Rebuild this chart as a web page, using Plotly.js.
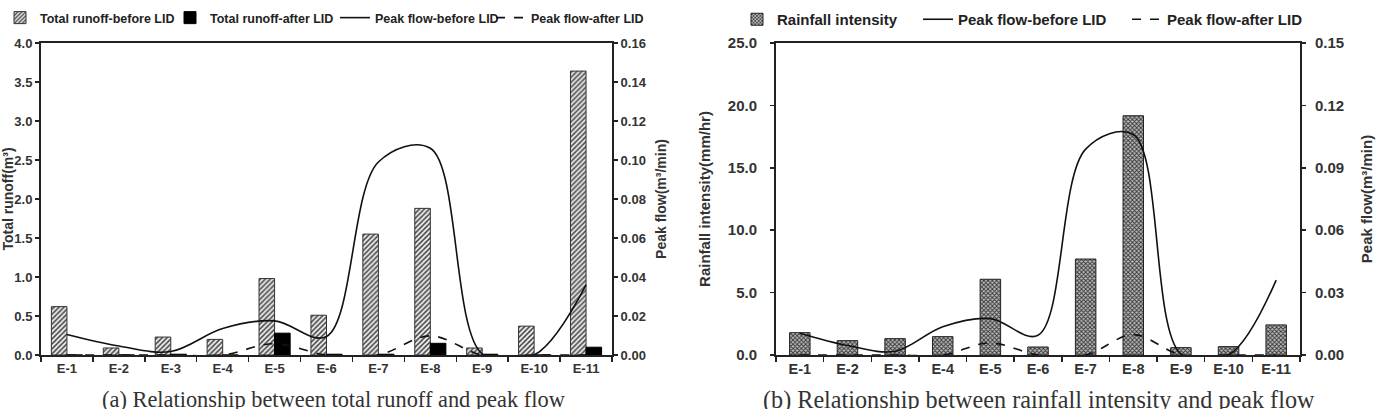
<!DOCTYPE html>
<html>
<head>
<meta charset="utf-8">
<script src="https://cdn.plot.ly/plotly-3.0.1.min.js"></script>
<style>
html,body{margin:0;padding:0;background:#fff;}
#chart{width:1381px;height:409px;}
</style>
</head>
<body>
<div id="chart"></div>
<script>
// ---- data ----
const categories = ['E-1','E-2','E-3','E-4','E-5','E-6','E-7','E-8','E-9','E-10','E-11'];
const runoffBefore = [0.62, 0.09, 0.23, 0.20, 0.98, 0.51, 1.55, 1.88, 0.09, 0.37, 3.64];
const runoffAfter  = [0.00, 0.00, 0.01, 0.00, 0.28, 0.01, 0.01, 0.15, 0.01, 0.00, 0.10];
const peakBefore   = [0.0105, 0.0046, 0.0018, 0.0136, 0.0175, 0.0095, 0.099, 0.106, 0.0005, 0.0, 0.036];
const peakAfter    = [0.0, 0.0, 0.0, 0.0, 0.0058, 0.0, 0.0, 0.0098, 0.0, 0.0, 0.0];
const rainfall     = [1.79, 1.15, 1.31, 1.47, 6.07, 0.64, 7.69, 19.17, 0.59, 0.67, 2.41];
const leftTicks  = [0, 0.5, 1.0, 1.5, 2.0, 2.5, 3.0, 3.5, 4.0];
const rightTicksA = [0, 0.02, 0.04, 0.06, 0.08, 0.10, 0.12, 0.14, 0.16];
const leftTicksB = [0, 5, 10, 15, 20, 25];
const rightTicksB = [0, 0.03, 0.06, 0.09, 0.12, 0.15];

const W = 1381, H = 409;
const FONT = 'Liberation Sans, Arial, sans-serif';
const fontA = s => ({family: FONT, size: s, color: '#333', weight: 'bold'});
const px = v => v / W;
const py = v => 1 - v / H;

const traces = [
  {type:'bar', name:'Total runoff-before LID', x:categories, y:runoffBefore, xaxis:'x', yaxis:'y', legend:'legend', showlegend:true,
   marker:{color:'#fff', line:{color:'#333', width:1}, pattern:{shape:'/', fgcolor:'#444', bgcolor:'#eee', size:3.5, solidity:0.45}}},
  {type:'bar', name:'Total runoff-after LID', x:categories, y:runoffAfter, xaxis:'x', yaxis:'y', legend:'legend2', showlegend:true,
   marker:{color:'#000', line:{color:'#000', width:1}}},
  {type:'scatter', mode:'lines', name:'Peak flow-before LID', x:categories, y:peakBefore, xaxis:'x', yaxis:'y2', legend:'legend3', showlegend:true,
   line:{color:'#111', width:1.6, shape:'spline', smoothing:1}},
  {type:'scatter', mode:'lines', name:'Peak flow-after LID', x:categories, y:peakAfter, xaxis:'x', yaxis:'y2', legend:'legend4', showlegend:true,
   line:{color:'#111', width:1.6, dash:'dash', shape:'spline', smoothing:1}},

  {type:'bar', name:'Rainfall intensity', x:categories, y:rainfall, xaxis:'x2', yaxis:'y3', legend:'legend5', showlegend:true, width:0.43,
   marker:{color:'#fff', line:{color:'#222', width:1}, pattern:{shape:'x', fgcolor:'#333', bgcolor:'#bbb', size:3, solidity:0.5}}},
  {type:'scatter', mode:'lines', name:'Peak flow-before LID', x:categories, y:peakBefore, xaxis:'x2', yaxis:'y4', legend:'legend6', showlegend:true,
   line:{color:'#111', width:1.6, shape:'spline', smoothing:1}},
  {type:'scatter', mode:'lines', name:'Peak flow-after LID', x:categories, y:peakAfter, xaxis:'x2', yaxis:'y4', legend:'legend7', showlegend:true,
   line:{color:'#111', width:1.6, dash:'dash', shape:'spline', smoothing:1}}
];

const yDom = [py(355), py(43)];
const xAxisBase = {
  type:'category', range:[-0.5, 10.5], showline:true, linecolor:'#222', linewidth:2, mirror:true,
  ticks:'outside', tickson:'boundaries', ticklen:5, tickcolor:'#222', tickwidth:1.5,
  showgrid:false, zeroline:false, fixedrange:true
};
const yAxisBase = {
  showline:true, linecolor:'#222', linewidth:2, ticks:'outside', ticklen:4, tickcolor:'#222', tickwidth:1.5,
  showgrid:false, zeroline:false, fixedrange:true
};
const leg = (textX, size) => ({orientation:'h', x:Math.max(0, px(textX - 40)), xanchor:'left', y:py(3), yanchor:'top',
  font:Object.assign(fontA(size), {color:'#222'}), itemwidth:30, bgcolor:'rgba(0,0,0,0)', visible:true});

const layout = {
  width:W, height:H, margin:{l:0, r:0, t:0, b:0},
  paper_bgcolor:'#fff', plot_bgcolor:'#fff', showlegend:true,
  barmode:'group', bargap:0.4, bargroupgap:0,
  xaxis: Object.assign({}, xAxisBase, {domain:[px(41), px(612)], anchor:'y', tickfont:fontA(13)}),
  yaxis: Object.assign({}, yAxisBase, {domain:yDom, anchor:'x', range:[0,4], tickvals:leftTicks, tickformat:'.1f', tickfont:fontA(13),
    title:{text:'Total runoff(m³)', font:fontA(14), standoff:4}}),
  yaxis2: Object.assign({}, yAxisBase, {overlaying:'y', side:'right', anchor:'x', range:[0,0.16], tickvals:rightTicksA, tickformat:'.2f', tickfont:fontA(13),
    title:{text:'Peak flow(m³/min)', font:fontA(14), standoff:11}}),
  xaxis2: Object.assign({}, xAxisBase, {domain:[px(776), px(1300)], anchor:'y3', tickfont:fontA(14.5)}),
  yaxis3: Object.assign({}, yAxisBase, {domain:yDom, anchor:'x2', range:[0,25], tickvals:leftTicksB, tickformat:'.1f', tickfont:fontA(15),
    ticklabelstandoff:10, title:{text:'Rainfall intensity(mm/hr)', font:fontA(15), standoff:14}}),
  yaxis4: Object.assign({}, yAxisBase, {overlaying:'y3', side:'right', anchor:'x2', range:[0,0.15], tickvals:rightTicksB, tickformat:'.2f', tickfont:fontA(15),
    ticklabelstandoff:6, title:{text:'Peak flow(m³/min)', font:fontA(15), standoff:18}}),
  legend: leg(38, 12.5),
  legend2: leg(210, 12.5),
  legend3: leg(375, 12.5),
  legend4: leg(531, 12.5),
  legend5: leg(777, 15),
  legend6: leg(958, 15),
  legend7: leg(1167, 15),
  annotations:[
    {text:'(a) Relationship between total runoff and peak flow', xref:'paper', yref:'paper', x:px(334), y:py(385), xanchor:'center', yanchor:'top',
     showarrow:false, font:{family:'Liberation Serif, Times New Roman, serif', size:22.4, color:'#333'}},
    {text:'(b) Relationship between rainfall intensity and peak flow', xref:'paper', yref:'paper', x:px(1039), y:py(384), xanchor:'center', yanchor:'top',
     showarrow:false, font:{family:'Liberation Serif, Times New Roman, serif', size:24.2, color:'#333'}}
  ]
};

Plotly.newPlot('chart', traces, layout, {displayModeBar:false, staticPlot:true});
</script>
</body>
</html>
